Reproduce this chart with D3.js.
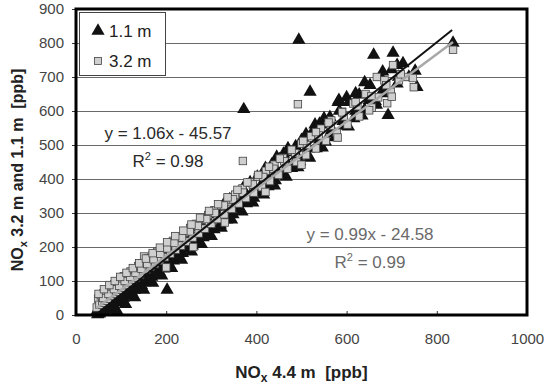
<!DOCTYPE html>
<html>
<head>
    <title>NOx profile comparison</title>
    <meta charset="utf-8">
    <style>
        body { margin: 0; background: #fff; }
        text { font-family: Arial, "Liberation Sans", sans-serif; white-space: pre; }
    </style>
</head>
<body>
<script src="https://d3js.org/d3.v7.min.js"></script>
<script>
    const SIZES = {
        WIDTH: 550,
        HEIGHT: 388,
        LEFT: 76,
        RIGHT: 527,
        TOP: 9,
        BOTTOM: 315
    };

    // NOx at 1.1 m against NOx at 4.4 m (triangles)
    const pts11 = [
        [45, 8], [48, 2], [50, 20], [52, 4], [55, 26], [57, 10], [60, 32], [62, 12], [65, 38], [68, 16],
        [70, 44], [72, 22], [75, 50], [78, 26], [80, 56], [83, 30], [86, 62], [88, 36], [91, 70], [94, 40],
        [96, 76], [99, 46], [102, 82], [105, 50], [108, 90], [111, 56], [114, 96], [117, 62], [120, 104], [123, 68],
        [127, 112], [130, 74], [134, 120], [137, 80], [141, 126], [145, 88], [148, 134], [152, 96], [156, 142], [160, 104],
        [164, 150], [168, 112], [172, 160], [176, 118], [181, 168], [185, 126], [190, 178], [195, 136], [200, 188], [202, 74],
        [206, 150], [211, 200], [216, 160], [221, 212], [226, 172], [231, 222], [236, 182], [242, 236], [247, 194], [252, 246],
        [258, 204], [264, 258], [270, 216], [276, 270], [282, 228], [288, 284], [294, 240], [300, 296], [306, 252], [313, 310],
        [320, 266], [327, 324], [334, 280], [341, 340], [348, 296], [356, 356], [363, 312], [370, 372], [372, 605], [378, 328],
        [386, 390], [394, 344], [402, 406], [410, 360], [418, 424], [426, 378], [434, 442], [442, 396], [451, 458], [460, 414],
        [469, 478], [478, 432], [487, 496], [494, 809], [496, 452], [505, 516], [514, 470], [519, 656], [524, 538], [533, 490],
        [543, 560], [553, 510], [563, 582], [573, 534], [581, 626], [584, 600], [594, 556], [605, 626], [616, 578], [628, 648],
        [640, 604], [652, 676], [660, 765], [664, 628], [676, 700], [688, 652], [692, 588], [700, 722], [703, 771], [712, 680],
        [725, 740], [738, 700], [752, 718], [756, 670], [836, 800],
        [58, 14], [66, 24], [74, 32], [82, 38], [90, 48], [98, 56], [106, 64], [116, 74], [126, 84], [136, 94],
        [146, 104], [158, 118], [170, 130], [183, 142], [197, 156], [210, 168], [224, 184], [238, 198], [253, 214], [268, 230],
        [284, 246], [300, 262], [316, 280], [332, 296], [350, 316], [368, 334], [388, 356], [408, 376], [428, 398], [448, 418],
        [470, 442], [492, 464], [516, 490], [540, 516], [566, 542], [592, 570], [620, 600], [650, 632], [682, 664], [715, 700],
        [90, 14], [110, 32], [130, 52], [150, 74], [170, 94], [190, 116], [212, 138], [234, 162], [256, 186], [278, 208],
        [300, 232], [322, 256], [345, 280], [368, 304], [392, 330], [416, 354], [440, 380], [466, 406], [492, 434], [518, 462],
        [546, 492], [574, 522], [604, 554], [634, 586], [666, 618],
        [420, 432], [460, 474], [500, 514], [540, 562], [583, 632], [600, 640], [620, 652], [640, 684], [680, 716], [712, 735],
        [470, 490], [510, 532], [530, 560], [550, 578], [445, 465]
    ];

    // NOx at 3.2 m against NOx at 4.4 m (squares)
    const pts32 = [
        [46, 22], [49, 48], [52, 30], [55, 58], [58, 36], [61, 64], [64, 42], [67, 70], [70, 48], [73, 76],
        [76, 56], [79, 84], [82, 62], [85, 90], [89, 68], [92, 98], [95, 74], [99, 106], [102, 80], [106, 114],
        [110, 88], [113, 120], [117, 96], [121, 128], [125, 104], [129, 136], [133, 110], [138, 144], [142, 118], [147, 152],
        [151, 172], [156, 134], [160, 166], [165, 142], [170, 176], [175, 150], [180, 186], [186, 160], [191, 196], [197, 170],
        [203, 206], [209, 180], [215, 218], [221, 192], [227, 230], [233, 204], [240, 242], [246, 216], [253, 256], [259, 228],
        [266, 268], [272, 240], [279, 280], [286, 254], [293, 294], [300, 268], [307, 308], [314, 282], [322, 322], [329, 296],
        [337, 338], [345, 312], [353, 354], [361, 328], [369, 372], [370, 453], [377, 344], [386, 390], [394, 360], [403, 406],
        [412, 376], [421, 424], [430, 394], [440, 442], [449, 412], [459, 462], [469, 430], [479, 482], [489, 450], [492, 620],
        [500, 504], [510, 470], [521, 526], [532, 490], [543, 548], [554, 512], [566, 572], [578, 536], [590, 598], [602, 560],
        [615, 622], [628, 584], [642, 650], [656, 610], [667, 700], [670, 640], [684, 690], [690, 623], [698, 656], [703, 735],
        [716, 690], [730, 700], [747, 697], [749, 670], [836, 780],
        [60, 50], [72, 62], [84, 76], [96, 86], [108, 100], [120, 112], [132, 124], [145, 136], [158, 150], [172, 164],
        [187, 180], [202, 196], [218, 212], [235, 228], [252, 246], [270, 262], [289, 282], [308, 300], [328, 322], [348, 340],
        [370, 360], [392, 384], [415, 406], [438, 430], [462, 452], [486, 476], [512, 500], [538, 528], [565, 556], [594, 584],
        [624, 614], [655, 644], [688, 676], [720, 708],
        [50, 62], [62, 76], [74, 88], [86, 100], [98, 112], [112, 124], [126, 138], [140, 152], [155, 166], [170, 182],
        [186, 198], [202, 214], [220, 232], [238, 248], [256, 266], [275, 286], [295, 306], [315, 326], [336, 346], [358, 368],
        [380, 390], [404, 412], [428, 436], [452, 460], [478, 486], [504, 512], [532, 538], [560, 566], [590, 596], [620, 626],
        [200, 140], [260, 200], [330, 272], [420, 362], [500, 442], [580, 522], [650, 602], [700, 642]
    ];

    // trend lines: [slope, intercept, x start, x end]
    const fit11 = [1.06, -45.57, 45, 834];
    const fit32 = [0.99, -24.58, 45, 836];

    const xTicks = [0, 200, 400, 600, 800, 1000];
    const yTicks = [0, 100, 200, 300, 400, 500, 600, 700, 800, 900];

    const x = d3.scaleLinear().domain([0, 1000]).range([SIZES.LEFT, SIZES.RIGHT]);
    const y = d3.scaleLinear().domain([0, 900]).range([SIZES.BOTTOM, SIZES.TOP]);

    const svg = d3.select('body').append('svg')
        .attr('width', SIZES.WIDTH)
        .attr('height', SIZES.HEIGHT);

    // horizontal grid
    svg.append('g')
        .attr('transform', `translate(${SIZES.LEFT},0)`)
        .call(d3.axisLeft(y).tickValues(yTicks).tickSize(-(SIZES.RIGHT - SIZES.LEFT)).tickFormat(''))
        .call(g => g.select('.domain').remove())
        .call(g => g.selectAll('line').attr('stroke', '#6a6a6a').attr('stroke-width', 1.2));

    // y axis labels + small outer ticks
    svg.append('g')
        .attr('transform', `translate(${SIZES.LEFT},0)`)
        .call(d3.axisLeft(y).tickValues(yTicks).tickSize(4).tickPadding(8))
        .call(g => g.select('.domain').remove())
        .call(g => g.selectAll('line').attr('stroke', '#333'))
        .call(g => g.selectAll('text').attr('fill', '#444').style('font-size', '15px')
            .attr('font-family', 'Arial, "Liberation Sans", sans-serif'));

    // x axis: ticks point into the plot
    svg.append('g')
        .attr('transform', `translate(0,${SIZES.BOTTOM})`)
        .call(d3.axisBottom(x).tickValues(xTicks).tickFormat(d3.format('d'))
            .tickSizeInner(-4).tickSizeOuter(0).tickPadding(18))
        .call(g => g.select('.domain').remove())
        .call(g => g.selectAll('line').attr('stroke', '#333'))
        .call(g => g.selectAll('text').attr('fill', '#444').style('font-size', '15px')
            .attr('font-family', 'Arial, "Liberation Sans", sans-serif'));

    // markers: triangles first, squares over them
    const tri = d3.symbol().type(d3.symbolTriangle).size(76);
    svg.append('g').selectAll('path')
        .data(pts11)
        .enter()
        .append('path')
        .attr('d', tri)
        .attr('transform', d => `translate(${x(d[0])},${y(d[1])})`)
        .attr('fill', '#111');

    svg.append('g').selectAll('rect')
        .data(pts32)
        .enter()
        .append('rect')
        .attr('x', d => x(d[0]) - 3.75)
        .attr('y', d => y(d[1]) - 3.75)
        .attr('width', 7.5)
        .attr('height', 7.5)
        .attr('fill', '#cfcfcf')
        .attr('stroke', '#444')
        .attr('stroke-width', 0.8);

    // trend lines
    const fitLine = f => d3.line()([[x(f[2]), y(f[0] * f[2] + f[1])], [x(f[3]), y(f[0] * f[3] + f[1])]]);
    svg.append('path').attr('d', fitLine(fit32)).attr('stroke', '#a8a8a8').attr('stroke-width', 2.5).attr('fill', 'none');
    svg.append('path').attr('d', fitLine(fit11)).attr('stroke', '#111').attr('stroke-width', 2).attr('fill', 'none');

    // frame
    svg.append('rect')
        .attr('x', SIZES.LEFT)
        .attr('y', SIZES.TOP)
        .attr('width', SIZES.RIGHT - SIZES.LEFT)
        .attr('height', SIZES.BOTTOM - SIZES.TOP)
        .attr('fill', 'none')
        .attr('stroke', '#000')
        .attr('stroke-width', 3);

    // legend
    const legend = svg.append('g');
    legend.append('rect')
        .attr('x', 79.5).attr('y', 12.5).attr('width', 86).attr('height', 63)
        .attr('fill', '#fff').attr('stroke', '#444').attr('stroke-width', 1);
    legend.append('path').attr('d', tri).attr('transform', 'translate(98,31)').attr('fill', '#111');
    legend.append('rect').attr('x', 94.5).attr('y', 57.5).attr('width', 7).attr('height', 7)
        .attr('fill', '#cfcfcf').attr('stroke', '#444').attr('stroke-width', 0.8);
    legend.append('text').attr('x', 109).attr('y', 37).text('1.1 m')
        .style('font-size', '17px').attr('fill', '#222');
    legend.append('text').attr('x', 109).attr('y', 67).text('3.2 m')
        .style('font-size', '17px').attr('fill', '#222');

    // equations
    const eq = (cx, cy, line1, r2, color) => {
        svg.append('text').attr('x', cx).attr('y', cy).attr('text-anchor', 'middle')
            .style('font-size', '17px').attr('fill', color).text(line1);
        const t = svg.append('text').attr('x', cx).attr('y', cy + 28).attr('text-anchor', 'middle')
            .style('font-size', '17px').attr('fill', color);
        t.append('tspan').text('R');
        t.append('tspan').attr('dy', -7).style('font-size', '11px').text('2');
        t.append('tspan').attr('dy', 7).text(' = ' + r2);
    };
    eq(168, 139, 'y = 1.06x - 45.57', '0.98', '#2a2a2a');
    eq(370, 240, 'y = 0.99x - 24.58', '0.99', '#6a6a6a');

    // axis titles
    const xt = svg.append('text')
        .attr('x', (SIZES.LEFT + SIZES.RIGHT) / 2)
        .attr('y', 378)
        .attr('text-anchor', 'middle')
        .style('font-size', '17px').style('font-weight', 'bold').attr('fill', '#222');
    xt.append('tspan').text('NO');
    xt.append('tspan').attr('dy', 4).style('font-size', '12px').text('x');
    xt.append('tspan').attr('dy', -4).text(' 4.4 m  [ppb]');

    const yt = svg.append('text')
        .attr('transform', 'translate(23,170) rotate(-90)')
        .attr('text-anchor', 'middle')
        .style('font-size', '16px').style('font-weight', 'bold').attr('fill', '#222');
    yt.append('tspan').text('NO');
    yt.append('tspan').attr('dy', 4).style('font-size', '11px').text('x');
    yt.append('tspan').attr('dy', -4).text(' 3.2 m and 1.1 m  [ppb]');
</script>
</body>
</html>
